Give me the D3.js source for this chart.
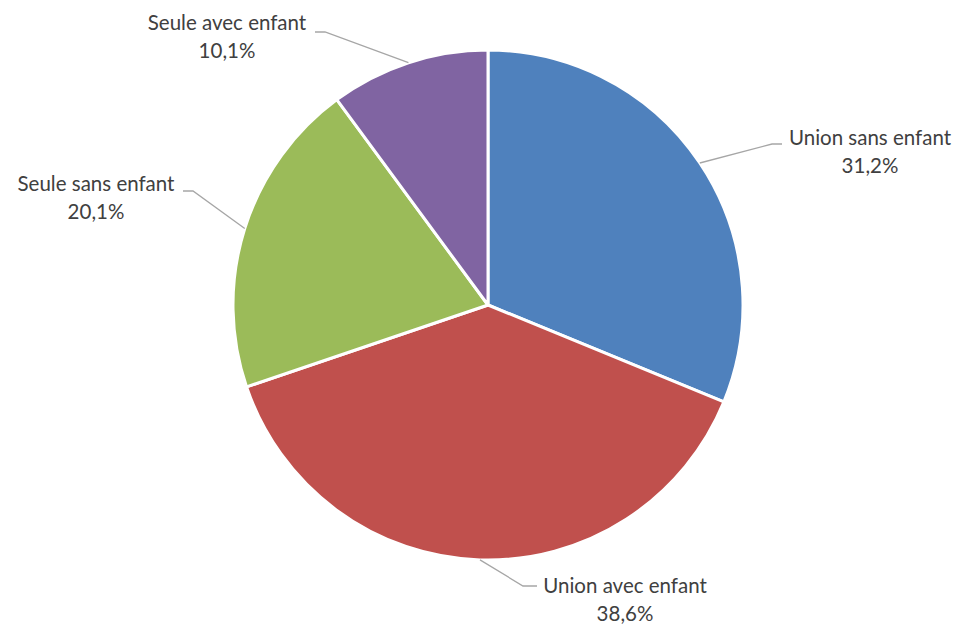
<!DOCTYPE html>
<html>
<head>
<meta charset="utf-8">
<script src="https://cdn.jsdelivr.net/npm/d3@7"></script>
<style>
 body { margin: 0; background: #fff; }
 text { font-family: Lato, "Open Sans", sans-serif; fill: #404040; }
</style>
</head>
<body>
<script>
var categories = ["Union sans enfant", "Union avec enfant", "Seule sans enfant", "Seule avec enfant"];
var values = [31.2, 38.6, 20.1, 10.1];
var valueLabels = ["31,2%", "38,6%", "20,1%", "10,1%"];
var colors = ["#4F81BD", "#C0504D", "#9BBB59", "#8064A2"];

var width = 971, height = 626;
var cx = 488, cy = 305, radius = 255;

/* where each label's leader line bends, and where the text sits */
var labelPos = [
 { elbow: [772, 144], end: [782, 144], tx: 870, ty: 145 },
 { elbow: [523, 586], end: [537, 586], tx: 625, ty: 593 },
 { elbow: [193, 191], end: [183, 191], tx: 96, ty: 191 },
 { elbow: [325, 32], end: [315, 32], tx: 227, ty: 30 }
];

var svg = d3.select("body").append("svg")
 .attr("width", width).attr("height", height);

var pie = d3.pie().sort(null).value(function(d) { return d; });
var arcs = pie(values);
var arc = d3.arc().innerRadius(0).outerRadius(radius);

var g = svg.append("g").attr("transform", "translate(" + cx + "," + cy + ")");

g.selectAll("path").data(arcs).enter().append("path")
 .attr("d", arc)
 .attr("fill", function(d, i) { return colors[i]; })
 .attr("stroke", "#fff").attr("stroke-width", 3)
 .attr("stroke-linejoin", "round");

// leader lines
svg.selectAll("polyline").data(arcs).enter().append("polyline")
 .attr("points", function(d, i) {
  var a = (d.startAngle + d.endAngle) / 2;
  var px = cx + radius * Math.sin(a), py = cy - radius * Math.cos(a);
  var p = labelPos[i];
  return [[px, py], p.elbow, p.end].map(function(q) { return q.join(","); }).join(" ");
 })
 .attr("fill", "none").attr("stroke", "#A6A6A6").attr("stroke-width", 1.3);

var labels = svg.selectAll("g.lbl").data(arcs).enter().append("g").attr("class", "lbl");
labels.append("text")
 .attr("x", function(d, i) { return labelPos[i].tx; })
 .attr("y", function(d, i) { return labelPos[i].ty; })
 .attr("text-anchor", "middle").attr("font-size", 20.5)
 .text(function(d, i) { return categories[i]; });
labels.append("text")
 .attr("x", function(d, i) { return labelPos[i].tx; })
 .attr("y", function(d, i) { return labelPos[i].ty + 28; })
 .attr("text-anchor", "middle").attr("font-size", 20.5)
 .text(function(d, i) { return valueLabels[i]; });
</script>
</body>
</html>
